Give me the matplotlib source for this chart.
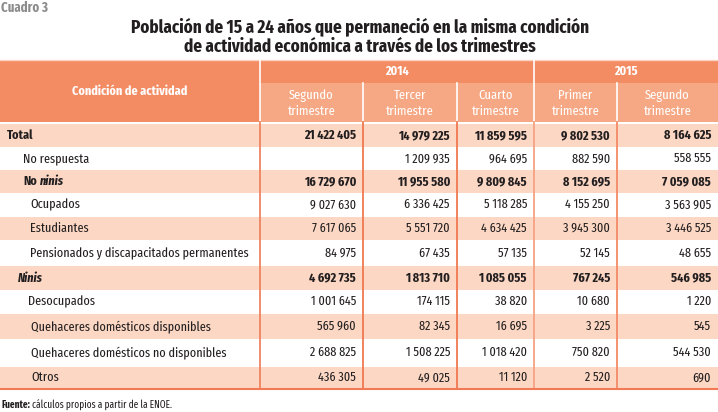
import matplotlib
matplotlib.use("Agg")
import matplotlib.pyplot as plt
from matplotlib.patches import Rectangle
from matplotlib import font_manager

# data from the table
row_labels = ["Total", "No respuesta", "No ninis", "Ocupados", "Estudiantes",
              "Pensionados y discapacitados permanentes", "Ninis", "Desocupados",
              "Quehaceres domésticos disponibles", "Quehaceres domésticos no disponibles", "Otros"]
years = ["2014", "2015"]
quarters = ["Segundo\ntrimestre", "Tercer\ntrimestre", "Cuarto\ntrimestre",
            "Primer\ntrimestre", "Segundo\ntrimestre"]
seg_2014 = [21422405, None, 16729670, 9027630, 7617065, 84975, 4692735, 1001645, 565960, 2688825, 436305]
ter_2014 = [14979225, 1209935, 11955580, 6336425, 5551720, 67435, 1813710, 174115, 82345, 1508225, 49025]
cua_2014 = [11859595, 964695, 9809845, 5118285, 4634425, 57135, 1085055, 38820, 16695, 1018420, 11120]
pri_2015 = [9802530, 882590, 8152695, 4155250, 3945300, 52145, 767245, 10680, 3225, 750820, 2520]
seg_2015 = [8164625, 558555, 7059085, 3563905, 3446525, 48655, 546985, 1220, 545, 544530, 690]
columns = [seg_2014, ter_2014, cua_2014, pri_2015, seg_2015]

# layout (pixels)
W, H = 718, 412
col_edges = [0, 260, 363, 457, 534, 617, 718]
row_h = [23, 23, 23, 23.5, 23.5, 26, 24, 23.5, 25.5, 27.5, 22]
indent = [7, 23, 23, 30, 30, 30, 18, 28, 31, 31, 31]
bold_rows = {0, 2, 6}
hdr_top, hdr_mid, hdr_bot, body_top = 60, 82.7, 122, 124

dark = "#f38b63"
light = "#f6a884"
pink = "#fcd8c4"
txt = "#231f20"
line_c = "#f27b55"

names = {f.name for f in font_manager.fontManager.ttflist}
if "Fira Sans Extra Condensed" in names:
    plt.rcParams["font.family"] = ["Fira Sans Extra Condensed", "DejaVu Sans"]
elif "Fira Sans Condensed" in names:
    plt.rcParams["font.family"] = ["Fira Sans Condensed", "DejaVu Sans"]
else:
    plt.rcParams["font.family"] = ["Open Sans", "DejaVu Sans"]
    plt.rcParams["font.stretch"] = "condensed"

fs = 9.5

fig = plt.figure(figsize=(W / 100, H / 100), dpi=100)
ax = fig.add_axes([0, 0, 1, 1])
ax.set_xlim(0, W)
ax.set_ylim(H, 0)
ax.axis("off")


def fmt(v):
    return "" if v is None else f"{v:,}".replace(",", " ")


ax.text(1, 8, "Cuadro 3", color="#8c8c8c", fontsize=10, fontweight="bold", va="center")
ax.text(360, 27, "Población de 15 a 24 años que permaneció en la misma condición",
        ha="center", va="center", fontsize=13.3, fontweight="bold", color=txt)
ax.text(360, 46.5, "de actividad económica a través de los trimestres",
        ha="center", va="center", fontsize=13.3, fontweight="bold", color=txt)

# header
ax.add_patch(Rectangle((0, hdr_top), W, hdr_mid - hdr_top, color=dark, lw=0))
ax.add_patch(Rectangle((0, hdr_mid), col_edges[1], hdr_bot - hdr_mid, color=dark, lw=0))
ax.add_patch(Rectangle((col_edges[1], hdr_mid), W - col_edges[1], hdr_bot - hdr_mid, color=light, lw=0))
ax.plot([0, W], [hdr_top, hdr_top], color="#fbd3c2", lw=1)
for x in (col_edges[1], col_edges[4]):
    ax.plot([x, x], [hdr_top, hdr_bot], color="white", lw=1.2)
for x in (col_edges[2], col_edges[3], col_edges[5]):
    ax.plot([x, x], [hdr_mid, hdr_bot], color="white", lw=1.2)

ax.text(col_edges[1] / 2, (hdr_top + hdr_bot) / 2, "Condición de actividad", ha="center",
        va="center", color="white", fontsize=fs, fontweight="bold")
ax.text((col_edges[1] + col_edges[4]) / 2, (hdr_top + hdr_mid) / 2, years[0], ha="center",
        va="center", color="white", fontsize=fs, fontweight="bold")
ax.text((col_edges[4] + col_edges[6]) / 2, (hdr_top + hdr_mid) / 2, years[1], ha="center",
        va="center", color="white", fontsize=fs, fontweight="bold")
for j, q in enumerate(quarters):
    ax.text((col_edges[j + 1] + col_edges[j + 2]) / 2, (hdr_mid + hdr_bot) / 2 + 1, q,
            ha="center", va="center", color="white", fontsize=fs + 0.3, linespacing=1.3)

# body
y = body_top
fig.canvas.draw()
rend = fig.canvas.get_renderer()
for i, lab in enumerate(row_labels):
    h = row_h[i]
    if i % 2 == 0:
        ax.add_patch(Rectangle((0, y), W, h, color=pink, lw=0))
    yc = y + h / 2
    w = "bold" if i in bold_rows else "normal"
    if lab == "No ninis":
        t = ax.text(indent[i], yc, "No", va="center", fontsize=fs, fontweight="bold", color=txt)
        bb = t.get_window_extent(rend)
        ax.text(indent[i] + bb.width + 3, yc, "ninis", va="center", fontsize=fs,
                fontweight="bold", style="italic", color=txt)
    elif lab == "Ninis":
        ax.text(indent[i], yc, lab, va="center", fontsize=fs, fontweight="bold",
                style="italic", color=txt)
    else:
        ax.text(indent[i], yc, lab, va="center", fontsize=fs, fontweight=w, color=txt)
    for j, col in enumerate(columns):
        ax.text(col_edges[j + 2] - 7, yc, fmt(col[i]), ha="right", va="center",
                fontsize=fs, fontweight=w, color=txt)
    y += h

body_bot = y
vcols = ["#f08462", "#f07850", "#f07850", "#f6a284", "#f48a66"]
for x, c in zip(col_edges[1:6], vcols):
    ax.plot([x, x], [body_top - 2, body_bot], color=c, lw=1.3)
ax.plot([0, W], [body_bot, body_bot], color=line_c, lw=1.5)

t = ax.text(1, 405, "Fuente:", va="center", fontsize=7.3, fontweight="bold", color=txt)
bb = t.get_window_extent(rend)
ax.text(1 + bb.width + 2.5, 405, "cálculos propios a partir de la ENOE.", va="center",
        fontsize=7.3, color=txt)

fig.savefig("out.png", dpi=100)
